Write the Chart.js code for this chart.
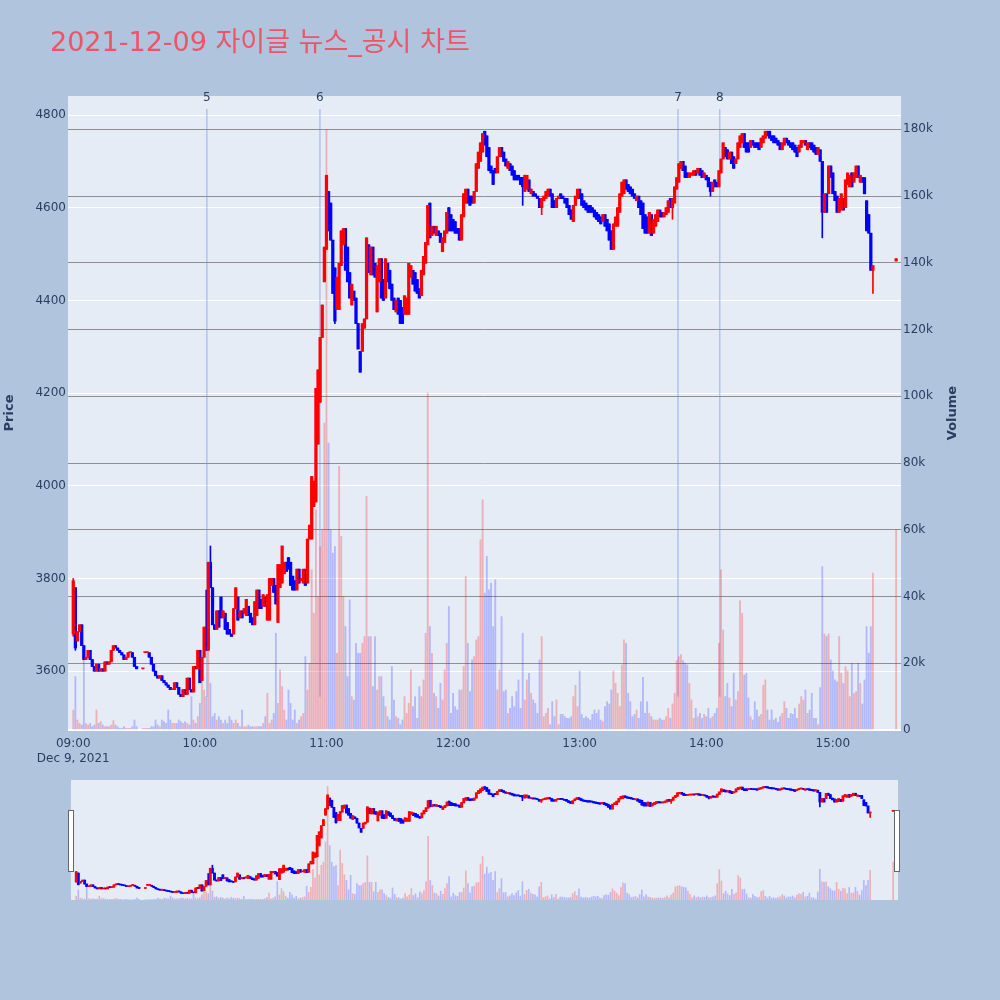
<!DOCTYPE html>
<html>
<head>
<meta charset="utf-8">
<script src="https://cdn.jsdelivr.net/npm/chart.js@4.4.1/dist/chart.umd.min.js"></script>
<style>
  body { margin: 0; background: #b0c4de; width: 1000px; height: 1000px; position: relative; overflow: hidden; }
  #main { position: absolute; left: 0; top: 0; }
  #mini { position: absolute; left: 71px; top: 780px; background: #e5ecf6; }
  .handle { position: absolute; top: 810px; width: 4px; height: 60px; background: #fff; border: 1px solid #666; }
</style>
</head>
<body>
<canvas id="main" width="1000" height="770"></canvas>
<canvas id="mini" width="827" height="120"></canvas>
<div class="handle" style="left:68px"></div>
<div class="handle" style="left:894px"></div>
<script>
// minutes after 09:00 are the array index; null = no trade in that minute
const opens = [
  3680,3780,3665,3685,3700,3655,3625,3630,3645,3625,
  3610,3600,3615,3600,3605,3600,3620,3615,3620,3645,
  3655,3650,3645,3640,3635,3625,3630,3640,3640,3630,
  3610,null,null,3605,3640,3640,3640,3630,3615,3600,
  3590,3585,3590,3580,3575,3570,3565,3560,3560,3575,
  3565,3550,3545,3560,3550,3585,3560,3555,3610,3605,
  3645,3580,3630,3695,3645,3835,3780,3700,3690,3730,
  3760,3715,3725,3705,3690,3680,3680,3735,3760,3715,
  3730,3725,3720,3740,3725,3715,3700,3720,3775,3755,
  3740,3760,3710,3710,3785,3800,3785,3705,3780,3790,
  3810,3835,3845,3835,3805,3795,3775,3820,3795,3790,
  3820,3790,3885,3885,3955,3965,4090,4180,4320,4440,
  4510,4635,4610,4530,4470,4380,4380,4475,4520,4555,
  4515,4460,4390,4420,4405,4350,4290,4290,4340,4360,
  4520,4455,4515,4480,4375,4440,4490,4445,4405,4480,
  4465,4435,4405,4375,4405,4400,4385,4370,4370,4370,
  4450,4465,4460,4445,4425,4410,4455,4480,4520,4610,
  4540,4560,4540,4550,4545,4505,4525,4545,4600,4585,
  4575,4570,4555,4555,4530,4580,4610,4640,4625,4625,
  4610,4635,4685,4700,4720,4765,4755,4730,4690,4680,
  4685,4675,4710,4730,4720,4705,4685,4695,4690,4680,
  4670,4670,4665,4665,4635,4640,4660,4630,4635,4630,
  4625,4620,4600,4615,4620,4625,4640,4630,4615,4600,
  4620,4630,4625,4620,4620,4605,4595,4570,4605,4620,
  4640,4630,4615,4610,4605,4605,4600,4595,4590,4585,
  4580,4570,4585,4575,4565,4550,4510,4560,4560,4590,
  4625,4630,4660,4650,4645,4640,4630,4615,4625,4615,
  4610,4585,4580,4545,4585,4545,4560,4570,4595,4590,
  4580,4585,4590,4620,4600,4610,4640,4655,4685,4700,
  4690,4675,4665,4670,4670,4680,4675,4685,4680,4665,
  4670,4665,4655,4635,4660,4655,4645,4675,4705,4730,
  4725,4705,4720,4710,4695,4705,4730,4740,4760,4740,
  4740,4730,4745,4740,4740,4740,4730,4740,4750,4765,
  4765,4755,4755,4750,4745,4740,4725,4735,4750,4745,
  4740,4740,4735,4730,4720,4730,4740,4745,4725,4740,
  4740,4735,4730,4715,4725,4700,4590,4630,4630,4690,
  4675,4635,4625,4590,4595,4620,4600,4650,4645,4675,
  4655,4665,4690,4655,4665,4665,4615,4585,4545,4465,
  null,null,null,null,null,null,null,null,null,null,
  4485
];
const closes = [
  3795,3650,3685,3700,3655,3625,3630,3645,3625,3610,
  3600,3615,3600,3605,3600,3620,3615,3620,3645,3655,
  3650,3645,3640,3635,3625,3630,3640,3640,3630,3610,
  3605,null,null,3605,3640,3640,3630,3615,3600,3590,
  3585,3590,3580,3575,3570,3565,3560,3560,3575,3565,
  3550,3545,3560,3550,3585,3560,3555,3610,3605,3645,
  3575,3630,3695,3645,3835,3780,3700,3690,3730,3695,
  3715,3730,3690,3680,3680,3675,3735,3780,3710,3730,
  3715,3735,3755,3720,3705,3700,3750,3775,3735,3735,
  3765,3740,3765,3800,3800,3770,3745,3830,3830,3870,
  3835,3815,3820,3785,3775,3775,3820,3790,3800,3820,
  3785,3885,3915,4020,4010,4210,4250,4320,4390,4515,
  4670,4550,4530,4415,4355,4450,4480,4550,4555,4465,
  4440,4405,4435,4400,4350,4295,4245,4350,4360,4535,
  4460,4515,4455,4450,4475,4490,4405,4400,4490,4440,
  4425,4400,4380,4400,4370,4350,4350,4410,4405,4480,
  4475,4435,4420,4415,4405,4465,4495,4525,4605,4535,
  4560,4545,4560,4540,4525,4535,4550,4590,4550,4550,
  4550,4545,4545,4530,4585,4630,4640,4610,4605,4610,
  4635,4695,4720,4740,4760,4735,4710,4680,4675,4650,
  4675,4710,4730,4710,4700,4690,4700,4680,4670,4660,
  4660,4660,4650,4645,4670,4670,4635,4640,4625,4625,
  4620,4600,4620,4625,4635,4640,4625,4600,4600,4620,
  4625,4620,4620,4610,4600,4585,4575,4605,4625,4640,
  4620,4605,4600,4595,4590,4590,4590,4580,4575,4570,
  4565,4585,4560,4550,4530,4510,4565,4580,4600,4630,
  4655,4660,4640,4635,4630,4625,4620,4625,4600,4585,
  4555,4545,4545,4590,4540,4575,4585,4595,4580,4580,
  4590,4600,4615,4600,4620,4645,4665,4695,4700,4680,
  4665,4665,4675,4675,4680,4670,4685,4670,4665,4675,
  4660,4645,4635,4655,4645,4645,4680,4705,4740,4710,
  4705,4720,4695,4685,4705,4740,4755,4760,4730,4720,
  4720,4745,4735,4730,4730,4725,4750,4755,4765,4755,
  4750,4745,4740,4740,4735,4725,4740,4750,4740,4735,
  4730,4725,4720,4710,4735,4745,4745,4735,4740,4730,
  4725,4720,4715,4730,4700,4590,4630,4590,4690,4665,
  4630,4615,4590,4620,4630,4595,4660,4675,4670,4645,
  4675,4690,4665,4670,4655,4630,4550,4545,4465,4475,
  null,null,null,null,null,null,null,null,null,null,
  4490
];
// traded volume per minute, thousands of shares
const volumesK = [
  6,16,3,2,1.5,21,2,1.5,2,1,
  1.5,6,2,2.5,1.5,1,1,1,1.5,2.8,
  1.5,1,0.5,0.5,1,0.5,0.5,0.5,1,3,
  1,null,null,0.5,0.5,0.5,0.5,1,1,3,
  1.5,1,3,2.5,2,6,3,2,2,2,
  3,2.5,2,2.5,2,1.5,10,3,2,4,
  8,16,12,10,26,14,4,5,3,4,
  3,2,3,2,4,3,2,3,2,1,
  6,1,1,1.5,1,1,1,1,1,1,
  2,4,11,2,3,5,29,8,18,13,
  6,3,12,8,3,6,2,3,4,5,
  22,12,20,48,35,66,40,55,60,92,
  180,86,60,53,55,23,79,58,40,31,
  16,39,10,9,26,23,23,26,28,70,
  28,28,13,28,12,16,16,10,7,4,
  3,19,9,4,3.5,1.6,3,10,5,8,
  18,7,10,3.5,13,10,15,29,101,31,
  23,11,10,6.5,14,9,18,26,37,5,
  11,7,6,12,12,19,46,26,11.5,21,
  22,27,28,57,69,41,52,42,44,31,
  45,12,18,34,11.5,12,5,6.5,10,7,
  11.5,15,6.5,29,9,15,17,11,9,8,
  5,21,28,4,5,6.5,1.6,8.5,4,9,
  1.6,4.7,4.7,4,3.5,3.5,4,10,13.4,7,
  17.7,4.7,3.5,4,3.5,3,4.7,6,5,6,
  3,2.5,7,8.5,7.8,12,17.7,14,11,7,
  19.5,27,26,11,8.5,4,4.7,6,3.5,8.5,
  15.8,5,8.5,5,4,3,3,3,3.5,3,
  3,4,6.5,3.5,7.8,11,20.8,22,22.6,20.8,
  20,19.5,14,9,3.5,6.5,4,5,3.5,4.7,
  4,6.5,3.5,4,5,6.5,26,48,30,10,
  14,9.6,7,17,9,11.5,38.7,35,16.5,17,
  9.6,4,3,8.5,6,4,4.7,13.4,15,6,
  3,6,3,3.5,2.3,4,5,8.5,6.5,3.5,
  5,4.7,6.5,3.5,7.8,10,9,12,5,6,
  11,3.5,3.5,1.6,12.7,49,28.8,28,28.8,21,
  17.7,15,14.5,28,17,14,19,17.7,10,20,
  10.9,11.5,20,14,7.8,15,31,23,31,47,
  null,null,null,null,null,null,null,null,null,null,
  60
];
// [minute, low, high] where the shadow reaches beyond the body
const wicks = [[0,3675,3800],[1,3645,3780],[63,3645,3775],[65,3780,3870],[124,4350,4470],
  [213,4605,4665],[222,4585,4620],[284,4575,4620],[302,4625,4655],[355,4535,4700],[379,4415,4475]];

const newsMinutes = [63.3, 116.9, 286.6, 306.4];
const newsLabels = ['5', '6', '7', '8'];
const xTickMinutes = [0, 60, 120, 180, 240, 300, 360];
const xTickLabels = [['09:00', 'Dec 9, 2021'], '10:00', '11:00', '12:00', '13:00', '14:00', '15:00'];
const priceTicks = [3600, 3800, 4000, 4200, 4400, 4600, 4800];
const volumeTicks = [0, 20000, 40000, 60000, 80000, 100000, 120000, 140000, 160000, 180000];
const volumeTickLabels = ['0', '20k', '40k', '60k', '80k', '100k', '120k', '140k', '160k', '180k'];

const xRange = [-2.5, 392.3];
const priceRange = [3473, 4841];
const volumeRange = [0, 190000];

const INK = '#2a3f5f';
const FONT = "'DejaVu Sans', 'Noto Sans CJK KR', sans-serif";
Chart.defaults.font.family = FONT;
Chart.defaults.font.size = 12;
Chart.defaults.color = INK;

const bodyUp = [], bodyDown = [], wickUp = [], wickDown = [], volUp = [], volDown = [];
closes.forEach((c, i) => {
    if (c === null) return;
    const o = opens[i];
    const w = wicks.find(k => k[0] === i);
    const lo = w ? Math.min(w[1], o, c) : Math.min(o, c);
    const hi = w ? Math.max(w[2], o, c) : Math.max(o, c);
    const rising = c >= o;
    (rising ? bodyUp : bodyDown).push({x: i, y: [o, c]});
    (rising ? wickUp : wickDown).push({x: i, y: [lo, hi]});
    (rising ? volUp : volDown).push({x: i, y: volumesK[i] * 1000});
});

function makeDatasets(bodyW, wickW, volW) {
    const common = {grouped: false, borderWidth: 0};
    return [
        Object.assign({label: 'up', data: bodyUp, backgroundColor: '#ff0000', barThickness: bodyW, minBarLength: 1, order: 0}, common),
        Object.assign({label: 'down', data: bodyDown, backgroundColor: '#0000ff', barThickness: bodyW, minBarLength: 1, order: 0}, common),
        Object.assign({label: 'up wick', data: wickUp, backgroundColor: '#ff0000', barThickness: wickW, order: 1}, common),
        Object.assign({label: 'down wick', data: wickDown, backgroundColor: '#0000ff', barThickness: wickW, order: 1}, common),
        Object.assign({label: 'vol up', data: volUp, yAxisID: 'yv', backgroundColor: 'rgba(255,0,0,0.25)', barThickness: volW, order: 2}, common),
        Object.assign({label: 'vol down', data: volDown, yAxisID: 'yv', backgroundColor: 'rgba(0,0,255,0.22)', barThickness: volW, order: 2}, common)
    ];
}

const decorations = {
    id: 'decorations',
    beforeDraw(chart) {
        const {ctx, chartArea: a} = chart;
        ctx.save();
        ctx.fillStyle = '#e5ecf6';
        ctx.fillRect(a.left, a.top, a.right - a.left, a.bottom - a.top);
        ctx.restore();
    },
    beforeDatasetsDraw(chart) {
        const {ctx, scales} = chart;
        ctx.save();
        ctx.strokeStyle = 'rgba(110,145,230,0.45)';
        ctx.lineWidth = 1.5;
        newsMinutes.forEach(m => {
            const px = scales.x.getPixelForValue(m);
            ctx.beginPath();
            ctx.moveTo(px, scales.y.getPixelForValue(4813));
            ctx.lineTo(px, scales.y.getPixelForValue(3545));
            ctx.stroke();
        });
        ctx.restore();
    },
    afterDraw(chart) {
        const {ctx, scales, chartArea: a} = chart;
        ctx.save();
        ctx.fillStyle = INK;
        ctx.font = '12px ' + FONT;
        ctx.textAlign = 'center';
        ctx.textBaseline = 'alphabetic';
        newsMinutes.forEach((m, i) => {
            ctx.fillText(newsLabels[i], scales.x.getPixelForValue(m), a.top + 4.5);
        });

        ctx.font = 'bold 13px ' + FONT;
        ctx.textBaseline = 'middle';
        const midY = (a.top + a.bottom) / 2;
        ctx.translate(10, midY);
        ctx.rotate(-Math.PI / 2);
        ctx.fillText('Price', 0, 0);
        ctx.rotate(Math.PI / 2);
        ctx.translate(953 - 10, 0);
        ctx.rotate(-Math.PI / 2);
        ctx.fillText('Volume', 0, 0);
        ctx.restore();

        ctx.save();
        ctx.fillStyle = '#ef5466';
        ctx.font = '27px ' + FONT;
        ctx.textAlign = 'left';
        ctx.textBaseline = 'alphabetic';
        ctx.fillText('2021-12-09 자이글 뉴스_공시 차트', 50, 50.5);
        ctx.restore();
    }
};

new Chart(document.getElementById('main'), {
    type: 'bar',
    data: {datasets: makeDatasets(2.6, 1, 1.2)},
    options: {
        responsive: false,
        animation: false,
        events: [],
        layout: {padding: {top: 96, left: 0, right: 0, bottom: 0}},
        plugins: {legend: {display: false}, tooltip: {enabled: false}},
        scales: {
            x: {
                type: 'linear', min: xRange[0], max: xRange[1], offset: false,
                grid: {display: false, offset: false, drawTicks: false},
                border: {display: false},
                afterBuildTicks: ax => { ax.ticks = xTickMinutes.map(v => ({value: v})); },
                ticks: {callback: (v, i) => xTickLabels[i], padding: 6, maxRotation: 0, autoSkip: false,
                        font: {lineHeight: 1.25}},
                afterFit: s => { s.height = 40; }
            },
            y: {
                position: 'left', min: priceRange[0], max: priceRange[1],
                grid: {color: '#ffffff', lineWidth: 1, drawTicks: false},
                border: {display: false},
                afterBuildTicks: ax => { ax.ticks = priceTicks.map(v => ({value: v})); },
                ticks: {padding: 2, callback: v => String(v)},
                afterFit: s => { s.width = 68; }
            },
            yv: {
                position: 'right', min: volumeRange[0], max: volumeRange[1],
                grid: {color: c => c.tick && c.tick.value === 0 ? '#ffffff' : '#8f8f8f',
                       lineWidth: c => c.tick && c.tick.value === 0 ? 2 : 1, drawTicks: false},
                border: {display: false},
                afterBuildTicks: ax => { ax.ticks = volumeTicks.map(v => ({value: v})); },
                ticks: {padding: 2, callback: (v, i) => volumeTickLabels[i]},
                afterFit: s => { s.width = 99; }
            }
        }
    },
    plugins: [decorations]
});

new Chart(document.getElementById('mini'), {
    type: 'bar',
    data: {datasets: makeDatasets(2.2, 1, 1)},
    options: {
        responsive: false,
        animation: false,
        events: [],
        layout: {padding: 0},
        plugins: {legend: {display: false}, tooltip: {enabled: false}},
        scales: {
            x: {type: 'linear', display: false, min: xRange[0], max: xRange[1], offset: false, grid: {offset: false}},
            y: {display: false, min: priceRange[0], max: priceRange[1]},
            yv: {display: false, position: 'right', min: volumeRange[0], max: volumeRange[1]}
        }
    }
});
</script>
</body>
</html>
